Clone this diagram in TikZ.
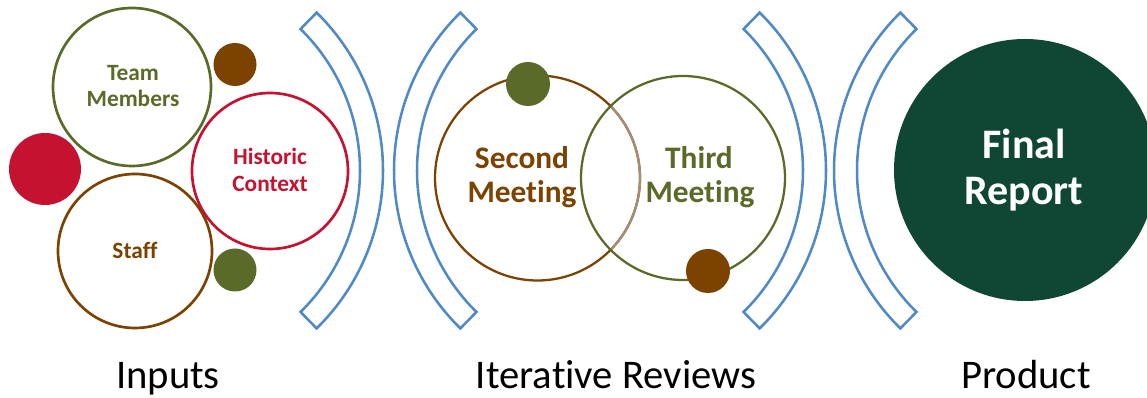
\documentclass[tikz,border=0pt]{standalone}
\usepackage{fontspec}
\setmainfont{Carlito}[Ligatures={NoCommon,NoRequired,NoContextual}]
\definecolor{cOlive}{HTML}{5A6A28}
\definecolor{cBrown}{HTML}{7B4200}
\definecolor{cRed}{HTML}{C41230}
\definecolor{cDark}{HTML}{104634}
\definecolor{cBlue}{HTML}{4F8AC6}
\tikzset{
  ring/.style={circle, draw, line width=2pt, inner sep=0pt},
  thinring/.style={circle, draw, line width=1.7pt, inner sep=0pt},
  dot/.style={circle, fill, inner sep=0pt},
  bracket/.style={draw=cBlue, line width=1.9pt, line join=miter},
  lbl/.style={anchor=base, inner sep=0pt, font=\bfseries\fontsize{17.5}{21}\selectfont},
  mlbl/.style={anchor=base, inner sep=0pt, font=\bfseries\fontsize{23.5}{28}\selectfont},
  flbl/.style={anchor=base, inner sep=0pt, text=white, font=\bfseries\fontsize{31.5}{36}\selectfont},
  captxt/.style={anchor=base, inner sep=0pt, font=\fontsize{30.5}{36}\selectfont},
  rbr/.pic={\path[bracket] (45.6:221) arc[start angle=45.6,end angle=-45.6,radius=221]
      -- (-45.6:198) arc[start angle=-45.6,end angle=45.6,radius=198] -- cycle;},
  lbr/.pic={\path[bracket] (134.4:221) arc[start angle=134.4,end angle=225.6,radius=221]
      -- (225.6:198) arc[start angle=225.6,end angle=134.4,radius=198] -- cycle;}
}
\begin{document}
\begin{tikzpicture}[x=0.75pt,y=-0.75pt]
\clip (0,0) rectangle (1147,398);
% brackets
\pic at (162,170.5) {rbr};
\pic at (615,170.5) {lbr};
\pic at (605,170.5) {rbr};
\pic at (1055,170.5) {lbr};
% inputs
\node[ring, draw=cOlive, minimum size=118.5pt] (tm) at (132,87) {};
\node[dot, fill=cRed, minimum size=54pt] (rdot) at (45,169) {};
\node[ring, draw=cBrown, minimum size=115.5pt] (st) at (135,251) {};
\node[ring, draw=cRed, minimum size=117pt] (hc) at (270,171) {};
\node[dot, fill=cBrown, minimum size=32.25pt] (bdot1) at (235,64.5) {};
\node[dot, fill=cOlive, minimum size=32.25pt] (gdot1) at (235,270) {};
\node[lbl, text=cOlive] (tmA) at (133,81) {Team};
\node[lbl, text=cOlive] (tmB) at (133,107) {Members};
\node[lbl, text=cRed] (hcA) at (270,165) {Historic};
\node[lbl, text=cRed] (hcB) at (270,192) {Context};
\node[lbl, text=cBrown] (stA) at (135,259) {Staff};
% reviews
\node[thinring, draw=cBrown, minimum size=153.75pt] (sm) at (537.5,178) {};
\begin{scope}
  \clip (683,178) circle[radius=102];
  \node[thinring, draw=cBrown!55!gray!70!white, minimum size=153.75pt] (smf) at (537.5,178) {};
\end{scope}
\node[thinring, draw=cOlive, minimum size=153pt] (tmt) at (683,178) {};
\node[dot, fill=cOlive, minimum size=33pt] (gdot2) at (528,84) {};
\node[dot, fill=cBrown, minimum size=33pt] (bdot2) at (708,271) {};
\node[mlbl, text=cBrown] (smA) at (522,169) {Second};
\node[mlbl, text=cBrown] (smB) at (522,203) {Meeting};
\node[mlbl, text=cOlive] (tmtA) at (699,169) {Third};
\node[mlbl, text=cOlive] (tmtB) at (700,203) {Meeting};
% product
\node[dot, fill=cDark, minimum size=196.5pt] (fr) at (1025,170) {};
\node[flbl] (frA) at (1024,159) {Final};
\node[flbl] (frB) at (1024,205) {Report};
% captions
\node[captxt] (c1) at (168,389) {Inputs};
\node[captxt] (c2) at (616,389) {Iterative Reviews};
\node[captxt] (c3) at (1026,389) {Product};
\end{tikzpicture}
\end{document}
